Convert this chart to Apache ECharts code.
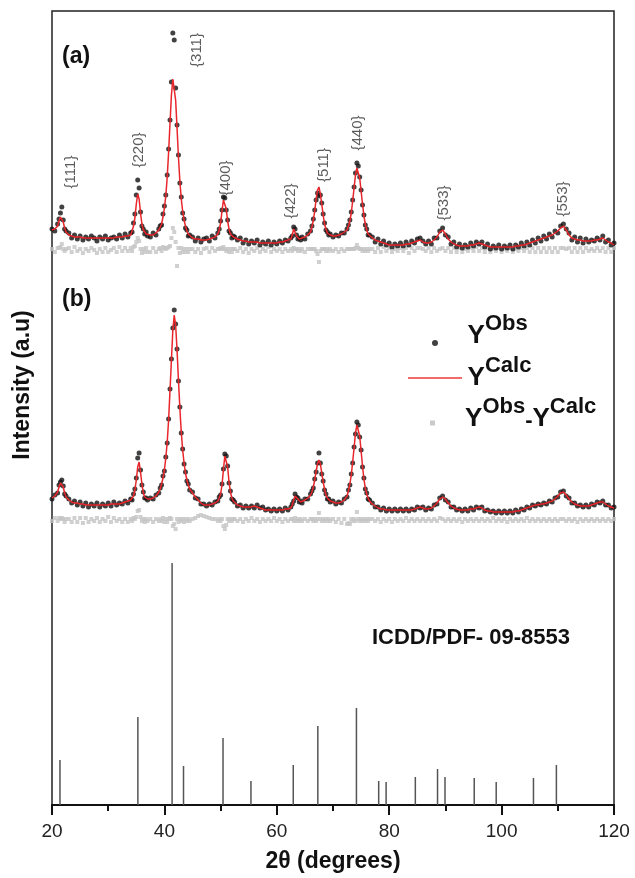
<!DOCTYPE html>
<html>
<head>
<meta charset="utf-8">
<script src="https://cdn.jsdelivr.net/npm/echarts@6/dist/echarts.min.js"></script>
<style>
  html, body { margin: 0; padding: 0; background: #fff; }
  #chart { width: 635px; height: 878px; }
</style>
</head>
<body>
<div id="chart"></div>
<script>
// 2-theta sampling grid, finer across the main reflections
const twoTheta = [
  20, 20.5, 21,
  21.25, 21.5, 21.75, 22, 22.25, 22.5,
  23, 23.5, 24, 24.5, 25, 25.5, 26, 26.5, 27, 27.5, 28, 28.5, 29, 29.5, 30, 30.5, 31, 31.5, 32, 32.5, 33, 33.5, 34,
  34.25, 34.5, 34.75, 35, 35.25, 35.5, 35.75, 36, 36.25, 36.5, 36.75, 37,
  37.5, 38, 38.5, 39,
  39.25, 39.5, 39.75, 40, 40.25, 40.5, 40.75, 41, 41.25, 41.5, 41.75, 42, 42.25, 42.5, 42.75, 43, 43.25, 43.5, 43.75, 44, 44.25, 44.5,
  45, 45.5, 46, 46.5, 47, 47.5, 48, 48.5, 49, 49.5,
  49.75, 50, 50.25, 50.5, 50.75, 51, 51.25, 51.5, 51.75, 52, 52.25,
  52.5, 53, 53.5, 54, 54.5, 55, 55.5, 56, 56.5, 57, 57.5, 58, 58.5, 59, 59.5, 60, 60.5, 61, 61.5, 62, 62.5,
  62.75, 63, 63.25, 63.5, 63.75, 64, 64.25,
  64.5, 65, 65.5, 66,
  66.25, 66.5, 66.75, 67, 67.25, 67.5, 67.75, 68, 68.25, 68.5, 68.75, 69, 69.25, 69.5,
  70, 70.5, 71, 71.5, 72, 72.5,
  72.75, 73, 73.25, 73.5, 73.75, 74, 74.25, 74.5, 74.75, 75, 75.25, 75.5, 75.75, 76, 76.25, 76.5,
  77, 77.5, 78, 78.5, 79, 79.5, 80, 80.5, 81, 81.5,
  82, 82.5, 83, 83.5, 84, 84.5, 85, 85.5, 86, 86.5,
  87, 87.5, 88, 88.5, 89, 89.5, 90, 90.5, 91, 91.5,
  92, 92.5, 93, 93.5, 94, 94.5, 95, 95.5, 96, 96.5,
  97, 97.5, 98, 98.5, 99, 99.5, 100, 100.5, 101, 101.5,
  102, 102.5, 103, 103.5, 104, 104.5, 105, 105.5, 106, 106.5,
  107, 107.5, 108, 108.5, 109, 109.5, 110, 110.5, 111, 111.5,
  112, 112.5, 113, 113.5, 114, 114.5, 115, 115.5, 116, 116.5,
  117, 117.5, 118, 118.5, 119, 119.5, 120
]

// pattern (a)
const obsA = [
  21, 19, 26,
  31, 37, 43, 30, 21, 19,
  17, 12, 15, 11, 14, 10, 13, 11, 14, 12, 9, 13, 11, 14, 10, 12, 13, 11, 15, 12, 16, 13, 17,
  18, 27, 36, 55, 70, 62, 38, 24, 21, 16, 18, 14,
  13, 17, 15, 21,
  24, 25, 36, 44, 55, 75, 101, 130, 168, 217, 210, 162, 125, 95, 67, 53, 37, 31, 22, 20, 14, 15,
  13, 9, 12, 8, 11, 12, 9, 14, 12, 17,
  21, 29, 40, 53, 52, 40, 30, 19, 17, 12, 14,
  13, 10, 12, 7, 10, 6, 9, 7, 10, 5, 8, 6, 9, 5, 8, 6, 9, 7, 10, 9, 12,
  14, 23, 21, 15, 11, 12, 10,
  13, 11, 16, 19,
  24, 31, 40, 50, 57, 54, 55, 47, 36, 27, 20, 18, 15, 16,
  13, 15, 14, 17, 17, 21,
  25, 30, 38, 50, 63, 77, 87, 84, 73, 60, 45, 35, 25, 21, 15, 15,
  13, 8, 11, 6, 9, 5, 7, 3, 6, 4,
  7, 4, 8, 5, 9, 7, 11, 12, 9, 6,
  9, 6, 12, 12, 19, 22, 15, 13, 6, 8,
  3, 6, 2, 5, 3, 7, 4, 8, 6, 8,
  3, 6, 1, 4, 2, 5, 1, 4, 2, 5,
  1, 5, 3, 7, 4, 8, 5, 10, 7, 12,
  9, 14, 11, 16, 13, 19, 17, 24, 26, 21,
  17, 10, 13, 8, 12, 7, 11, 8, 10, 9,
  12, 10, 14, 8, 10, 5, 7
]
const calcA = [
  20, 21, 24,
  29, 33, 33, 28, 22, 18,
  15, 14, 13, 13, 13, 12, 12, 12, 12, 12, 12, 12, 12, 12, 12, 12, 12, 13, 13, 13, 14, 14, 15,
  19, 24, 32, 46, 56, 51, 37, 26, 20, 18, 16, 16,
  15, 15, 17, 20,
  22, 26, 33, 42, 54, 73, 98, 127, 155, 171, 170, 150, 122, 93, 69, 51, 39, 30, 24, 19, 16, 14,
  12, 11, 11, 10, 10, 10, 11, 12, 13, 16,
  20, 27, 39, 50, 51, 41, 29, 21, 16, 14, 13,
  12, 11, 10, 9, 9, 8, 8, 8, 8, 7, 7, 7, 7, 7, 7, 7, 8, 8, 9, 10, 11,
  15, 21, 20, 14, 12, 11, 11,
  12, 13, 15, 18,
  23, 30, 39, 51, 60, 63, 56, 46, 35, 26, 21, 17, 16, 15,
  14, 14, 15, 16, 18, 20,
  24, 29, 37, 49, 62, 75, 82, 82, 72, 59, 46, 34, 26, 20, 16, 14,
  12, 10, 9, 8, 7, 6, 5, 5, 5, 5,
  5, 5, 6, 6, 7, 8, 9, 10, 8, 7,
  7, 8, 10, 13, 18, 20, 16, 11, 8, 6,
  5, 4, 4, 4, 4, 5, 5, 6, 7, 6,
  5, 4, 3, 3, 3, 3, 3, 3, 3, 3,
  3, 4, 4, 5, 5, 6, 7, 8, 9, 10,
  11, 12, 13, 14, 15, 17, 19, 22, 24, 20,
  15, 12, 11, 10, 10, 9, 9, 9, 9, 10,
  10, 11, 12, 10, 8, 7, 5
]
const diffA = [
  1, -2, 2,
  2, 3, 6, 1, -1, 1,
  2, -2, 3, -1, 1, -3, 1, -1, 2, 0, -3, 1, -2, 2, -2, 0, 2, -2, 3, -1, 2, -1, 2,
  -1, 3, 4, 8, 12, 9, 1, -3, 1, -2, 2, -2,
  -2, 2, -2, 1,
  2, -1, 3, 2, 1, 2, 3, 4, 12, 22, 18, 8, -16, 2, -3, 2, -2, 1, -2, 1, -2, 1,
  1, -2, 1, -3, 1, 2, -2, 2, -1, 1,
  1, 2, 1, 3, 1, -1, 1, -2, 1, -2, 1,
  1, -1, 2, -2, 1, -3, 1, -1, 2, -2, 1, -1, 3, -2, 1, -1, 1, -2, 1, -1, 1,
  -1, 2, 1, 1, -1, 1, -1,
  1, -2, 1, 1,
  1, 1, 1, -1, -4, -12, -1, 1, 1, 1, -1, 1, -1, 1,
  -1, 1, -2, 1, -1, 1,
  1, 1, 1, 1, 1, 2, 5, 2, 1, 1, -1, 1, -1, 1, -1, 1,
  1, -2, 2, -2, 3, -1, 2, -2, 1, -1,
  2, -1, 2, -3, 2, -1, 2, 2, 1, -1,
  2, -2, 2, -1, 1, 2, -1, 2, -2, 2,
  -2, 2, -2, 1, -1, 2, -1, 3, -1, 2,
  -2, 2, -2, 1, -1, 2, -2, 1, -1, 2,
  -2, 1, -1, 2, -1, 2, -2, 2, -2, 2,
  -2, 2, -2, 2, -2, 2, -2, 2, 2, 1,
  2, -2, 2, -2, 2, -2, 2, -1, 1, -1,
  2, -1, 2, -2, 2, -2, 2
]

// pattern (b)
const obsB = [
  21, 25, 27,
  35, 38, 40, 34, 26, 24,
  21, 17, 19, 15, 18, 14, 17, 13, 16, 14, 17, 13, 16, 14, 17, 14, 18, 15, 17, 16, 19, 17, 21,
  20, 26, 31, 42, 62, 67, 50, 35, 28, 22, 22, 20,
  22, 21, 25, 27,
  32, 35, 44, 49, 63, 77, 101, 131, 161, 192, 210, 196, 171, 139, 113, 87, 71, 56, 48, 39, 36, 30,
  28, 22, 21, 16, 16, 14, 16, 15, 18, 19,
  23, 25, 36, 51, 66, 64, 54, 37, 29, 21, 20,
  18, 14, 15, 12, 14, 12, 14, 12, 15, 12, 13, 10, 11, 9, 11, 9, 11, 9, 12, 10, 13,
  16, 19, 26, 23, 22, 18, 19,
  17, 21, 21, 26,
  29, 32, 41, 48, 57, 67, 57, 46, 39, 30, 26, 21, 21, 18,
  19, 16, 18, 17, 21, 23,
  30, 35, 46, 57, 73, 86, 98, 95, 83, 70, 53, 42, 31, 27, 21, 20,
  17, 13, 13, 10, 12, 9, 11, 9, 11, 9,
  11, 9, 11, 9, 11, 10, 13, 12, 13, 10,
  12, 11, 15, 16, 22, 24, 20, 18, 13, 13,
  10, 11, 9, 11, 9, 12, 10, 13, 12, 13,
  9, 10, 8, 9, 7, 9, 7, 9, 7, 9,
  7, 10, 8, 11, 10, 13, 12, 15, 14, 16,
  15, 17, 16, 19, 18, 22, 23, 28, 29, 24,
  22, 17, 17, 14, 15, 13, 15, 13, 16, 15,
  18, 17, 19, 15, 15, 12, 13
]
const calcB = [
  22, 24, 28,
  33, 37, 38, 33, 27, 23,
  20, 18, 17, 17, 16, 16, 15, 15, 15, 15, 15, 15, 15, 15, 15, 16, 16, 16, 16, 17, 18, 19, 20,
  21, 24, 30, 40, 53, 58, 48, 36, 27, 23, 21, 21,
  21, 22, 24, 28,
  31, 36, 42, 50, 62, 78, 100, 130, 160, 190, 205, 195, 170, 140, 112, 88, 70, 57, 47, 40, 35, 31,
  27, 23, 20, 17, 15, 15, 15, 16, 17, 19,
  22, 26, 35, 50, 64, 65, 53, 38, 28, 22, 19,
  17, 15, 14, 13, 13, 13, 13, 14, 13, 12, 11, 10, 10, 10, 10, 10, 10, 10, 11, 11, 12,
  15, 20, 24, 24, 21, 19, 18,
  18, 20, 22, 25,
  28, 33, 40, 49, 56, 60, 56, 47, 38, 31, 25, 22, 20, 19,
  18, 17, 17, 18, 20, 24,
  29, 36, 45, 58, 72, 87, 95, 94, 84, 69, 54, 41, 32, 26, 22, 19,
  16, 14, 12, 11, 11, 10, 10, 10, 10, 10,
  10, 10, 10, 10, 10, 11, 12, 13, 12, 11,
  11, 12, 14, 17, 21, 23, 21, 17, 14, 12,
  11, 10, 10, 10, 10, 11, 11, 12, 13, 12,
  10, 9, 9, 8, 8, 8, 8, 8, 8, 8,
  8, 9, 9, 10, 11, 12, 13, 14, 15, 15,
  16, 16, 17, 18, 19, 21, 24, 27, 28, 25,
  21, 18, 16, 15, 14, 14, 14, 14, 15, 16,
  17, 18, 18, 16, 14, 13, 12
]
const diffB = [
  -1, 2, -1,
  2, 1, 2, 1, -2, 1,
  1, -2, 2, -2, 2, -3, 2, -2, 1, -1, 2, -2, 1, -1, 3, -2, 2, -1, 1, -2, 1, -2, 1,
  -1, 2, 1, 3, 9, 10, 3, -1, 1, -2, 1, -1,
  1, -2, 1, -1,
  1, -1, 2, -2, 1, -2, 1, 2, 1, -6, -4, -9, 1, -2, 1, -1, 1, -2, 1, -1, 1, -1,
  1, 2, 4, 5, 4, 3, 2, 1, 1, -1,
  1, -1, 1, -6, -9, -5, 1, -1, 1, -1, 1,
  1, -1, 1, -2, 1, -1, 2, -1, 1, -2, 1, -1, 1, -1, 2, -1, 1, -2, 1, -1, 1,
  1, -1, 2, -1, 1, -1, 1,
  -1, 1, -1, 1,
  1, -1, 1, -1, 1, 7, 1, -1, 1, -1, 1, -1, 1, -1,
  1, -2, 1, -3, 1, -4,
  -3, -4, 1, -1, 1, -1, 8, 1, -1, 1, -1, 1, -1, 1, -1, 1,
  1, -1, 1, -2, 1, -1, 1, -2, 1, -1,
  1, -1, 2, -1, 1, -1, 1, -1, 1, -1,
  1, -1, 1, -1, 2, 1, -1, 1, -1, 1,
  -1, 1, -2, 1, -1, 1, -1, 1, -1, 1,
  -1, 1, -1, 2, -1, 1, -1, 1, -2, 1,
  -1, 1, -1, 1, -1, 2, -1, 1, -1, 1,
  -1, 1, -1, 1, -1, 1, -1, 1, 1, -1,
  1, -1, 1, -2, 1, -1, 1, -1, 1, -1,
  1, -1, 1, -1, 1, -1, 1
]

// ICDD/PDF 09-8553 reference lines
const refPos = [21.42, 35.28, 41.37, 43.4, 50.43, 55.4, 62.93, 67.3, 74.17, 78.13, 79.45, 84.65, 88.6, 89.93, 95.13, 99.04, 105.67, 109.75]
const refInt = [45, 88, 242, 39, 67, 24, 40, 79, 97, 24, 23, 28, 36, 28, 27, 23, 27, 40]

// reflection labels over pattern (a)
const hklNames = ['{111}', '{220}', '{311}', '{400}', '{422}', '{511}', '{440}', '{533}', '{553}']
const hklPos = [23.38, 35.48, 45.8, 50.96, 62.53, 68.4, 74.45, 89.75, 110.93]
const hklHeight = [78, 100, 200, 72, 49, 85, 117, 47, 51]

// vertical stacking of the panels
const offsetA = 555
const offsetB = 285

if ([obsA, calcA, diffA, obsB, calcB, diffB].some(a => a.length !== twoTheta.length)) {
  console.warn('series length mismatch')
}

const FONT = 'Arial, "Liberation Sans", sans-serif'
const INK = '#111'

const pts = (arr, off) => twoTheta.map((t, i) => [t, arr[i] + off])

const rich = {
  h: { fontSize: 2, lineHeight: 36 },
  y: { fontSize: 26, fontWeight: 'bold', fontFamily: FONT, color: INK, lineHeight: 26, verticalAlign: 'bottom' },
  s: { fontSize: 22, fontWeight: 'bold', fontFamily: FONT, color: INK, lineHeight: 22, verticalAlign: 'top' },
  m: { fontSize: 22, fontWeight: 'bold', fontFamily: FONT, color: INK, lineHeight: 22, verticalAlign: 'bottom' }
}

const chart = echarts.init(document.getElementById('chart'))

chart.setOption({
  animation: false,
  backgroundColor: '#fff',
  grid: {
    show: true,
    left: 52,
    right: 21,
    top: 11,
    bottom: 73,
    borderColor: '#222',
    borderWidth: 1.5
  },
  legend: [
    {
      data: [{ name: 'YObs', icon: 'circle', itemStyle: { color: INK } }],
      left: 432, top: 313, padding: 0,
      itemWidth: 54, itemHeight: 6,
      selectedMode: false,
      formatter: () => '{h| }{y|Y}{s|Obs}',
      textStyle: { rich: rich, padding: [0, 0, 24, 0] }
    },
    {
      data: [{ name: 'YCalc', icon: 'rect', itemStyle: { color: '#f26a6a' } }],
      left: 408, top: 355, padding: 0,
      itemWidth: 54, itemHeight: 2,
      selectedMode: false,
      formatter: () => '{h| }{y|Y}{s|Calc}',
      textStyle: { rich: rich, padding: [0, 0, 10, 0] }
    },
    {
      data: [{ name: 'YObs-YCalc', icon: 'path://M0,0H10V10H0Z', itemStyle: { color: '#bdbdbd' } }],
      left: 430, top: 396, padding: 0,
      itemWidth: 54, itemHeight: 5,
      selectedMode: false,
      formatter: () => '{h| }{y|Y}{s|Obs}{m|-}{y|Y}{s|Calc}',
      textStyle: { rich: rich, padding: [0, 0, 18, 0] }
    }
  ],
  xAxis: {
    type: 'value',
    min: 20,
    max: 120,
    interval: 20,
    name: '2θ (degrees)',
    nameLocation: 'middle',
    nameGap: 45,
    nameTextStyle: { fontFamily: FONT, fontSize: 23, fontWeight: 'bold', color: INK },
    axisLine: { lineStyle: { color: INK, width: 2 } },
    axisTick: { length: 10, lineStyle: { color: INK, width: 2 } },
    minorTick: { show: true, splitNumber: 2, length: 6, lineStyle: { color: INK, width: 2 } },
    splitLine: { show: false },
    minorSplitLine: { show: false },
    axisLabel: { fontFamily: FONT, fontSize: 19, color: '#222', margin: 17 }
  },
  yAxis: {
    type: 'value',
    min: 0,
    max: 794,
    axisLine: { show: false },
    axisTick: { show: false },
    axisLabel: { show: false },
    splitLine: { show: false }
  },
  graphic: [
    { type: 'text', x: 62, y: 57, style: { text: '(a)', fontFamily: FONT, fontSize: 23, fontWeight: 'bold', fill: INK, align: 'left', verticalAlign: 'middle' } },
    { type: 'text', x: 62, y: 300, style: { text: '(b)', fontFamily: FONT, fontSize: 23, fontWeight: 'bold', fill: INK, align: 'left', verticalAlign: 'middle' } },
    { type: 'text', x: 471, y: 638, style: { text: 'ICDD/PDF- 09-8553', fontFamily: FONT, fontSize: 22, fontWeight: 'bold', fill: INK, align: 'center', verticalAlign: 'middle' } },
    { type: 'text', x: 23, y: 385, rotation: Math.PI / 2, style: { text: 'Intensity (a.u)', fontFamily: FONT, fontSize: 23, fontWeight: 'bold', fill: INK, align: 'center', verticalAlign: 'middle' } }
  ],
  series: [
    {
      name: 'YObs-YCalc', type: 'scatter', symbol: 'rect', symbolSize: 4,
      itemStyle: { color: '#c4c4c4' }, data: pts(diffA, offsetA)
    },
    {
      name: 'YObs-YCalc', type: 'scatter', symbol: 'rect', symbolSize: 4,
      itemStyle: { color: '#c4c4c4' }, data: pts(diffB, offsetB)
    },
    {
      name: 'YObs', type: 'scatter', symbol: 'circle', symbolSize: 5,
      itemStyle: { color: INK }, data: pts(obsA, offsetA)
    },
    {
      name: 'YObs', type: 'scatter', symbol: 'circle', symbolSize: 5,
      itemStyle: { color: INK }, data: pts(obsB, offsetB)
    },
    {
      name: 'YCalc', type: 'line', symbol: 'none', showSymbol: false,
      lineStyle: { color: '#e8262b', width: 1.5 }, itemStyle: { color: '#f26a6a' },
      data: pts(calcA, offsetA)
    },
    {
      name: 'YCalc', type: 'line', symbol: 'none', showSymbol: false,
      lineStyle: { color: '#e8262b', width: 1.5 }, itemStyle: { color: '#f26a6a' },
      data: pts(calcB, offsetB)
    },
    {
      name: 'ICDD', type: 'bar', barWidth: 1.5,
      itemStyle: { color: '#555' },
      data: refPos.map((p, i) => [p, refInt[i]])
    },
    {
      name: 'hkl', type: 'scatter', symbolSize: 1, silent: true,
      itemStyle: { color: 'transparent' },
      label: {
        show: true, position: 'inside', rotate: 90,
        formatter: p => p.name,
        fontFamily: FONT, fontSize: 15, color: '#333'
      },
      data: hklNames.map((n, i) => ({ name: n, value: [hklPos[i], hklHeight[i] + offsetA] }))
    }
  ]
})
</script>
</body>
</html>
